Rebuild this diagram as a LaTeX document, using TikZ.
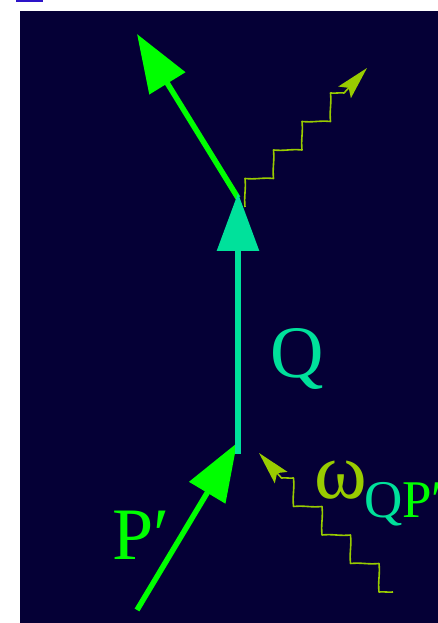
\documentclass[tikz,border=0pt]{standalone}
\usepackage{fontspec}
\setmainfont{Liberation Serif}
\usetikzlibrary{arrows.meta}
\definecolor{bgnavy}{RGB}{5,0,54}
\definecolor{tealq}{RGB}{0,225,155}
\definecolor{lgreen}{RGB}{0,255,0}
\definecolor{olivep}{RGB}{153,204,0}
\definecolor{barblue}{RGB}{45,20,200}
\begin{document}
\begin{tikzpicture}[x=1pt,y=1pt,
  fermion/.style={line width=5.5pt, lgreen, -{Triangle[length=58pt,width=41pt]}},
  qline/.style={line width=6pt, tealq, -{Triangle[length=58pt,width=41pt]}},
  photon/.style={line width=1.6pt, olivep, line join=round,
    -{Stealth[length=33pt,width=17pt,inset=6pt]}},
  up/.style={out=96,in=-84},
  rt/.style={out=-6,in=174},
  lt/.style={out=186,in=6},
  lab/.style={inner sep=0pt, font=\fontsize{74}{74}\selectfont}]
\useasboundingbox (0,0) rectangle (438,623);
\clip (0,0) rectangle (438,623);
\fill[bgnavy] (20,0) rectangle (438,612);
\fill[barblue] (16,620.5) rectangle (43,623);
% coordinates
\coordinate (V) at (238,425);
\coordinate (qb) at (238,169);
\coordinate (qt) at (238,430);
\coordinate (ot) at (137,589);
\coordinate (ib) at (137,13);
\coordinate (it) at (237,180);
\coordinate (pos) at (245,416);
\coordinate (pot) at (367,555);
\coordinate (pis) at (393,31);
\coordinate (pit) at (259,170);
% fermion lines
\draw[fermion] (V) -- (ot);
\draw[fermion] (ib) -- (it);
\draw[qline] (qb) -- (qt);
% photons
\draw[photon] (pos) to[up] ++(0,28.5) to[rt] ++(28.5,0) to[up] ++(0,28.5) to[rt] ++(28.5,0)
  to[up] ++(0,28.5) to[rt] ++(28.5,0) to[up] ++(0,28.5) to[rt] ++(13.5,0) -- (pot);
\draw[photon] (pis) to[lt] ++(-14,0) to[up] ++(0,28.5) to[lt] ++(-28.5,0) to[up] ++(0,28.5)
  to[lt] ++(-28.5,0) to[up] ++(0,28.5) to[lt] ++(-28.5,0) to[up] ++(0,28.5) to[lt] ++(-12,0) -- (pit);
% labels
\node[lab, tealq, anchor=base] (qlab) at (297.5,245) {Q};
\node[lab, lgreen, anchor=base west] (plab) at (112,63) {P′};
\node[inner sep=0pt, olivep, font=\fontsize{80}{80}\selectfont, anchor=base west] (wlab) at (314,124) {ω};
\node[inner sep=0pt, font=\fontsize{53}{53}\selectfont, anchor=base west] (sub) at (364,105) {\textcolor{tealq}{Q}\textcolor{lgreen}{P′}};
\end{tikzpicture}
\end{document}
